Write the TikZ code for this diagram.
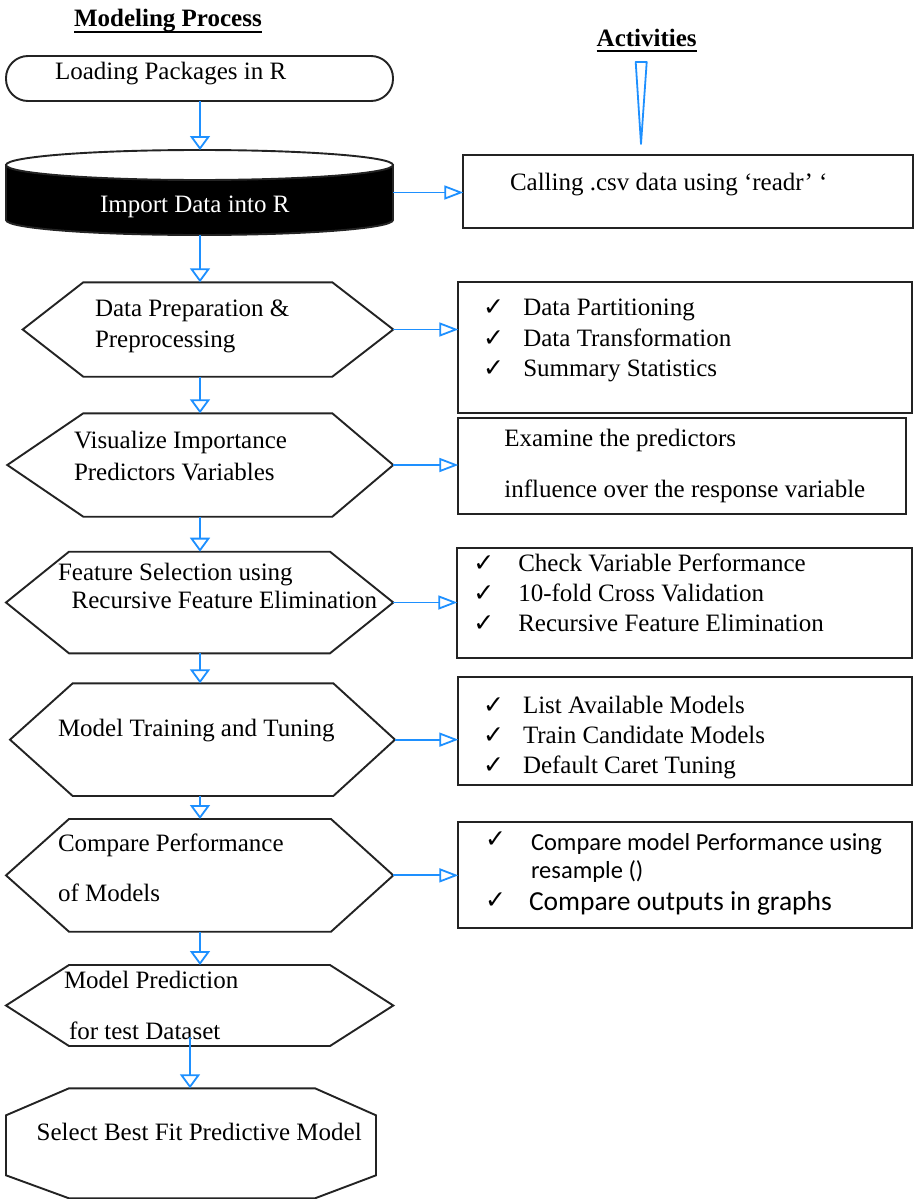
\documentclass[tikz,border=0pt]{standalone}
\usepackage{fontspec}
\setmainfont{Liberation Serif}
\newfontfamily\chkfont{DejaVu Sans}
\newfontfamily\calibfont{Carlito}
\usetikzlibrary{arrows.meta,calc}

\definecolor{flowblue}{RGB}{30,144,255}
\definecolor{edgegray}{RGB}{35,35,35}

\tikzset{
  frame/.style={draw=none, rectangle, inner sep=0pt, outer sep=0pt},
  boxed/.style={draw=edgegray, line width=1.9pt, rectangle, inner sep=0pt, outer sep=0pt},
  outline/.style={draw=edgegray, line width=1.9pt, line join=miter},
  txt/.style={anchor=base west, inner sep=0pt, outer sep=0pt, font=\fontsize{25}{30}\selectfont},
  heading/.style={txt, font=\fontsize{25}{30}\selectfont\bfseries},
  sanstxt/.style={txt, font=\calibfont\fontsize{24.5}{30}\selectfont},
  vflow/.style={draw=flowblue, line width=1.8pt, -{Triangle[open, length=14pt, width=20pt]}},
  hflow/.style={draw=flowblue, line width=1.8pt, -{Triangle[open, length=19pt, width=14pt]}},
}

% check mark followed by the item text, set at a fixed indent
\newcommand\tickmark{{\chkfont\fontsize{25}{25}\selectfont ✓}}
\newcommand\tickrow[2]{\makebox[#1][l]{\tickmark}#2}

% hexagon drawn on a named frame node: left and right insets of the flat top
\newcommand\hexoutline[3]{%
  \draw[outline] (#1.west) -- ([xshift=#2]#1.north west) -- ([xshift=-#3]#1.north east)
    -- (#1.east) -- ([xshift=-#3]#1.south east) -- ([xshift=#2]#1.south west) -- cycle;}

\begin{document}
\begin{tikzpicture}[x=1pt,y=1pt]
\useasboundingbox (0,0) rectangle (913,-1199);
\fill[white] (0,0) rectangle (913,-1199);

\coordinate (spine) at (200,0);
\coordinate (spine2) at (190,0);

% column headings
\node[heading] (mtitle) at (74,-27) {Modeling Process};
\draw[line width=1.6pt] ([yshift=-5pt]mtitle.base west) -- ([yshift=-5pt]mtitle.base east);
\node[heading] (atitle) at (596.7,-47) {Activities};
\draw[line width=1.6pt] ([yshift=-4pt]atitle.base west) -- ([yshift=-4pt]atitle.base east);
\coordinate (peak) at (641,-144);
\draw[draw=flowblue, line width=1.8pt, line join=round] (635.7,-62) -- (646.7,-62) -- (peak) -- cycle;

% ---------- process column ----------
\node[boxed, rounded corners=22pt, minimum width=387pt, minimum height=45pt] (load) at (199.5,-78.5) {};
\node[txt] (loadtxt) at (55,-80) {Loading Packages in R};

% data store
\node[frame, minimum width=387pt, minimum height=85pt] (import) at (199.5,-192.5) {};
\filldraw[outline, fill=black] ([yshift=-15pt]import.north west) -- ([yshift=15pt]import.south west)
  arc[start angle=180, end angle=360, x radius=193.5pt, y radius=15pt]
  -- ([yshift=-15pt]import.north east) -- cycle;
\filldraw[outline, fill=white] ([yshift=-15pt]import.north) ellipse [x radius=193.5pt, y radius=15pt];
\node[txt, text=white] (importtxt) at (100,-212.7) {Import Data into R};

\node[frame, minimum width=370.6pt, minimum height=94.4pt] (prep) at (208,-329.5) {};
\hexoutline{prep}{60.6pt}{61pt}
\node[txt] (prep1) at (95,-316.7) {Data Preparation \&};
\node[txt] (prep2) at (95,-347.3) {Preprocessing};

\node[frame, minimum width=386pt, minimum height=103.4pt] (vis) at (200.3,-465) {};
\hexoutline{vis}{76pt}{61pt}
\node[txt] (vis1) at (74,-448.3) {Visualize Importance};
\node[txt] (vis2) at (74,-480) {Predictors Variables};

\node[frame, minimum width=387.3pt, minimum height=101.6pt] (feat) at (199.65,-602.5) {};
\hexoutline{feat}{63pt}{63.3pt}
\node[txt] (feat1) at (58,-580) {Feature Selection using};
\node[txt] (feat2) at (71.7,-608.3) {Recursive Feature Elimination};

\node[frame, minimum width=385pt, minimum height=112.7pt] (train) at (202.5,-739.65) {};
\hexoutline{train}{62.7pt}{61.7pt}
\node[txt] (train1) at (58,-736.7) {Model Training and Tuning};

\node[frame, minimum width=387.3pt, minimum height=112.7pt] (comp) at (199.65,-875.35) {};
\hexoutline{comp}{63pt}{62.3pt}
\node[txt] (comp1) at (58,-851.7) {Compare Performance};
\node[txt] (comp2) at (58,-901.7) {of Models};

\node[frame, minimum width=387.3pt, minimum height=81pt] (pred) at (199.65,-1005.5) {};
\hexoutline{pred}{63pt}{63.3pt}
\node[txt] (pred1) at (64,-988.3) {Model Prediction};
\node[txt] (pred2) at (69,-1039.3) {for test Dataset};

\node[frame, minimum width=370pt, minimum height=110pt] (best) at (191,-1143.3) {};
\draw[outline] ([yshift=-27pt]best.north west) -- ([xshift=63pt]best.north west)
  -- ([xshift=-61pt]best.north east) -- ([yshift=-27pt]best.north east)
  -- ([yshift=23pt]best.south east) -- ([xshift=-61pt]best.south east)
  -- ([xshift=63pt]best.south west) -- ([yshift=23pt]best.south west) -- cycle;
\node[txt] (best1) at (36.7,-1140.7) {Select Best Fit Predictive Model};

% ---------- activities column ----------
\node[boxed, minimum width=449.4pt, minimum height=72.7pt] (csvbox) at (688,-191.35) {};
\node[txt] (csv1) at (510,-190) {Calling .csv data using ‘readr’ ‘};

\node[boxed, minimum width=453.7pt, minimum height=130.7pt] (prepbox) at (685.15,-347.35) {};
\node[txt] (pb1) at (483,-315) {\tickrow{40.3pt}{Data Partitioning}};
\node[txt] (pb2) at (483,-346.7) {\tickrow{40.3pt}{Data Transformation}};
\node[txt] (pb3) at (483,-376.7) {\tickrow{40.3pt}{Summary Statistics}};

\node[boxed, minimum width=447.7pt, minimum height=96pt] (visbox) at (682.15,-466.3) {};
\node[txt] (vb1) at (504.3,-446.7) {Examine the predictors};
\node[txt] (vb2) at (504.3,-497.7) {influence over the response variable};

\node[boxed, minimum width=454.4pt, minimum height=110.6pt] (featbox) at (684.5,-603) {};
\node[txt] (fb1) at (473.3,-571.7) {\tickrow{45pt}{Check Variable Performance}};
\node[txt] (fb2) at (473.3,-601.7) {\tickrow{45pt}{10-fold Cross Validation}};
\node[txt] (fb3) at (473.3,-631.7) {\tickrow{45pt}{Recursive Feature Elimination}};

\node[boxed, minimum width=453.7pt, minimum height=108.3pt] (trainbox) at (685.15,-730.85) {};
\node[txt] (tb1) at (483,-713.3) {\tickrow{40pt}{List Available Models}};
\node[txt] (tb2) at (483,-743.3) {\tickrow{40pt}{Train Candidate Models}};
\node[txt] (tb3) at (483,-773.3) {\tickrow{40pt}{Default Caret Tuning}};

\node[boxed, minimum width=453.7pt, minimum height=106.6pt] (compbox) at (685.15,-875) {};
\node[sanstxt] (cb1) at (485,-847) {\tickrow{46pt}{\raisebox{-3pt}{Compare model Performance using}}};
\node[sanstxt] (cb2) at (531,-878.3) {resample ()};
\node[sanstxt, font=\calibfont\fontsize{27.5}{30}\selectfont] (cb3) at (485,-908) {\tickrow{44pt}{\raisebox{-2pt}{Compare outputs in graphs}}};

% ---------- connectors ----------
\draw[vflow] (load.south -| spine) -- (import.north -| spine);
\draw[vflow] (import.south -| spine) -- (prep.north -| spine);
\draw[vflow] (prep.south -| spine) -- (vis.north -| spine);
\draw[vflow] (vis.south -| spine) -- (feat.north -| spine);
\draw[vflow] (feat.south -| spine) -- (train.north -| spine);
\draw[vflow] (train.south -| spine) -- (comp.north -| spine);
\draw[vflow] (comp.south -| spine) -- (pred.north -| spine);
\draw[vflow] ([yshift=9pt]pred.south -| spine2) -- (best.north -| spine2);

\draw[hflow] (import.east) -- (import.east -| csvbox.west);
\draw[hflow] (prep.east) -- (prep.east -| prepbox.west);
\draw[hflow] (vis.east) -- (vis.east -| visbox.west);
\draw[hflow] (feat.east) -- (feat.east -| featbox.west);
\draw[hflow] (train.east) -- (train.east -| trainbox.west);
\draw[hflow] (comp.east) -- (comp.east -| compbox.west);
\end{tikzpicture}
\end{document}
